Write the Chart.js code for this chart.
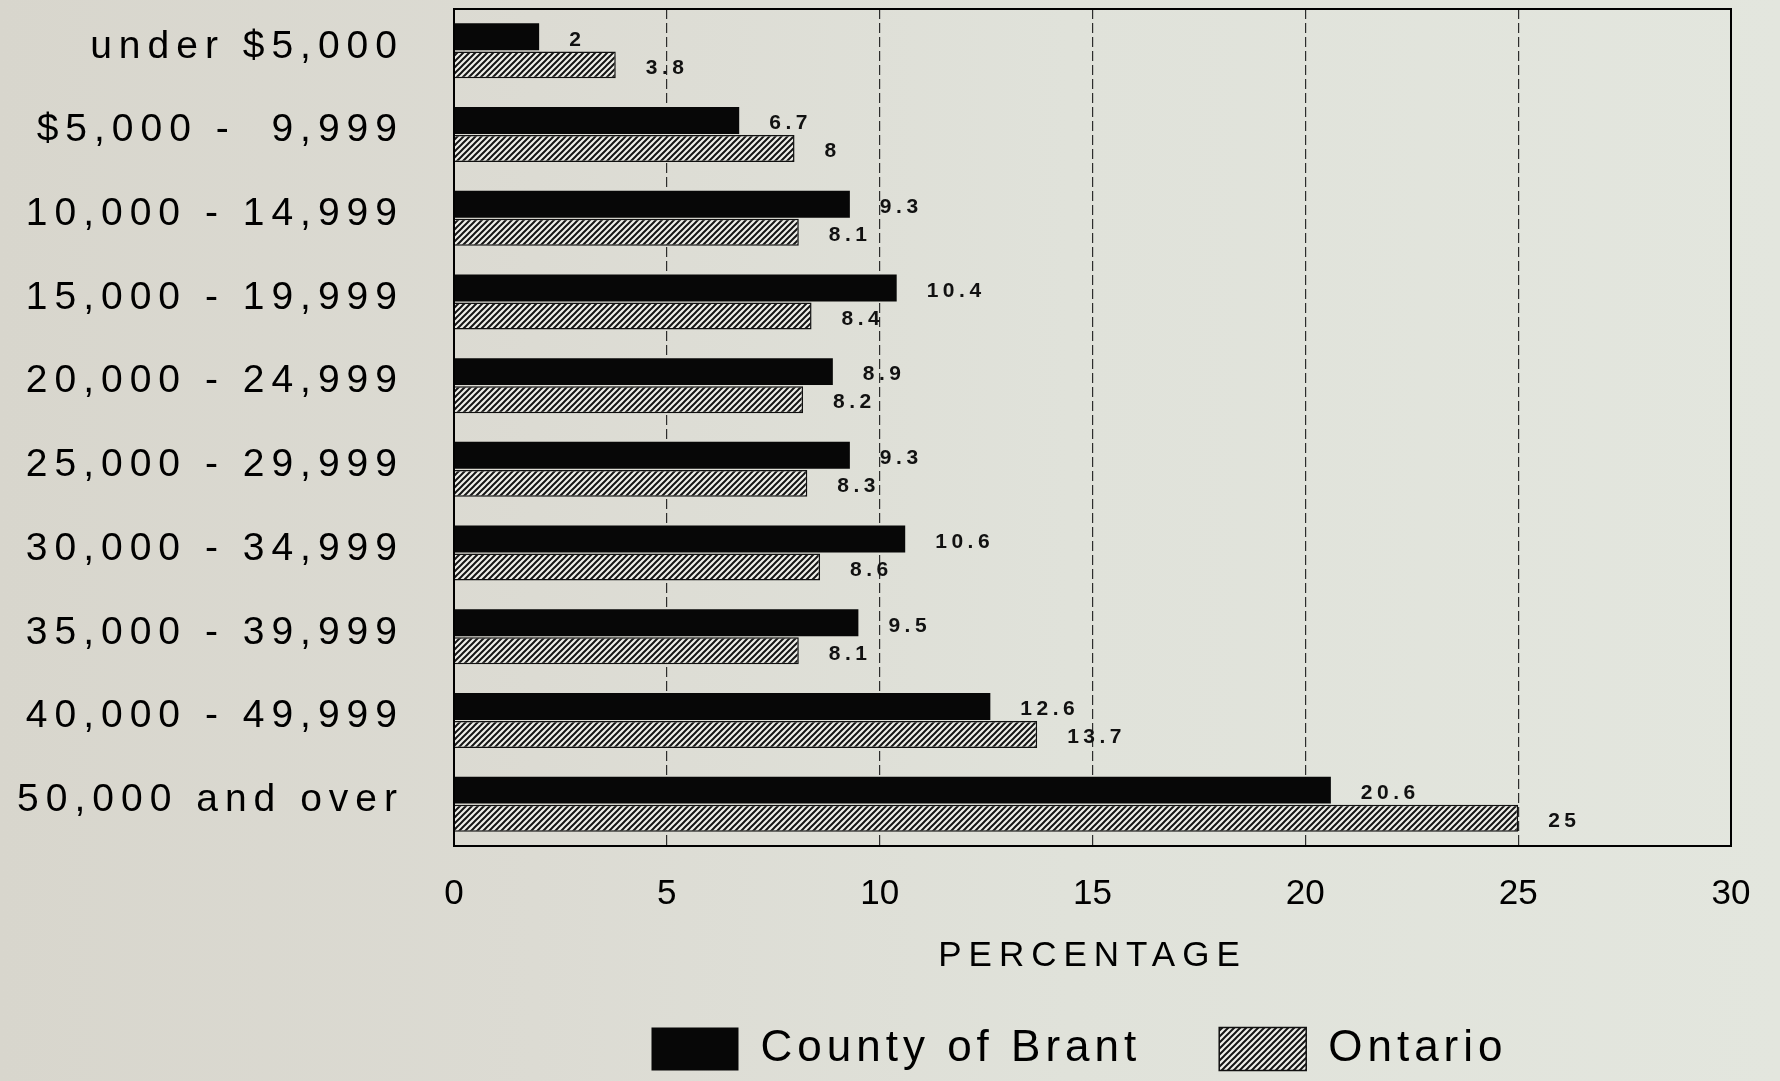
<!DOCTYPE html>
<html>
<head>
<meta charset="utf-8">
<script src="https://cdn.jsdelivr.net/npm/chart.js@4/dist/chart.umd.min.js"></script>
<style>
  html, body { margin: 0; padding: 0; overflow: hidden; }
  body { width: 1780px; height: 1081px; background: linear-gradient(to right, #d8d6cd 0%, #dcdbd3 30%, #e0e2da 60%, #e3e6de 100%); }
  #wrap { position: relative; width: 1780px; height: 1081px; }
</style>
</head>
<body>
<div id="wrap"><canvas id="c"></canvas></div>
<script>
const categories = ["under $5,000", "$5,000 -  9,999", "10,000 - 14,999", "15,000 - 19,999", "20,000 - 24,999",
                    "25,000 - 29,999", "30,000 - 34,999", "35,000 - 39,999", "40,000 - 49,999", "50,000 and over"];
const brantValues = [2, 6.7, 9.3, 10.4, 8.9, 9.3, 10.6, 9.5, 12.6, 20.6];
const ontarioValues = [3.8, 8, 8.1, 8.4, 8.2, 8.3, 8.6, 8.1, 13.7, 25];
const seriesNames = ["County of Brant", "Ontario"];
const xTicks = [0, 5, 10, 15, 20, 25, 30];
const xTitle = "PERCENTAGE";

const FONT = "'Liberation Sans', Arial, Helvetica, sans-serif";

function hatchPattern() {
  const s = 6;
  const c = document.createElement('canvas');
  c.width = s; c.height = s;
  const g = c.getContext('2d');
  g.fillStyle = '#efefe9';
  g.fillRect(0, 0, s, s);
  g.strokeStyle = '#151515';
  g.lineWidth = 2;
  g.beginPath();
  g.moveTo(0, s); g.lineTo(s, 0);
  g.moveTo(-1, 1); g.lineTo(1, -1);
  g.moveTo(s - 1, s + 1); g.lineTo(s + 1, s - 1);
  g.stroke();
  return document.getElementById('c').getContext('2d').createPattern(c, 'repeat');
}

const spacingPlugin = {
  id: 'spacing',
  beforeLayout(chart) { chart.ctx.letterSpacing = '5px'; },
  afterLayout(chart) {
    const lg = chart.legend;
    if (lg) {
      lg.left -= 13; lg.right -= 13;
      if (!lg._wrapped) {
        const orig = lg.draw;
        lg.draw = function (...args) {
          const prev = this.ctx.letterSpacing;
          this.ctx.letterSpacing = '5px';
          orig.apply(this, args);
          this.ctx.letterSpacing = prev;
        };
        lg._wrapped = true;
      }
    }
  },
  beforeDraw(chart) { chart.ctx.letterSpacing = '7px'; }
};

const valueLabels = {
  id: 'valueLabels',
  afterDatasetsDraw(chart) {
    const ctx = chart.ctx;
    ctx.save();
    ctx.letterSpacing = '4.5px';
    ctx.font = "bold 21px " + FONT;
    ctx.fillStyle = '#111';
    ctx.textAlign = 'left';
    ctx.textBaseline = 'middle';
    chart.data.datasets.forEach((ds, di) => {
      const meta = chart.getDatasetMeta(di);
      meta.data.forEach((el, i) => {
        ctx.fillText(String(ds.data[i]), el.x + 30, el.y + 3);
      });
    });
    ctx.restore();
    ctx.letterSpacing = '0px';
  }
};

const framePlugin = {
  id: 'frame',
  afterDraw(chart) {
    const a = chart.chartArea;
    const ctx = chart.ctx;
    ctx.save();
    ctx.strokeStyle = '#000';
    ctx.lineWidth = 2;
    ctx.strokeRect(a.left, a.top, a.right - a.left, a.bottom - a.top);
    ctx.restore();
  }
};

const hatch = hatchPattern();

new Chart(document.getElementById('c'), {
  type: 'bar',
  data: {
    labels: categories,
    datasets: [
      { label: seriesNames[0], data: brantValues, backgroundColor: '#070707', borderColor: '#070707', borderWidth: 0,
        categoryPercentage: 0.67, barPercentage: 0.96 },
      { label: seriesNames[1], data: ontarioValues, backgroundColor: hatch, borderColor: '#111', borderWidth: 1.5,
        categoryPercentage: 0.67, barPercentage: 0.96 }
    ]
  },
  options: {
    indexAxis: 'y',
    responsive: true,
    maintainAspectRatio: false,
    animation: false,
    devicePixelRatio: 1,
    layout: { padding: { left: 0, right: 49, top: 9, bottom: 0 } },
    plugins: {
      tooltip: { enabled: false },
      legend: {
        position: 'bottom',
        fullSize: false,
        labels: {
          boxWidth: 87, boxHeight: 43, padding: 78,
          color: '#000',
          font: { family: FONT, size: 44 }
        }
      }
    },
    scales: {
      x: {
        min: 0, max: 30,
        afterBuildTicks(scale) { scale.ticks = xTicks.map(v => ({ value: v })); },
        afterFit(scale) { scale.height = 103; scale.paddingLeft = 0; scale.paddingRight = 0; },
        grid: {
          drawTicks: false,
          lineWidth: 1.2,
          color: (c) => (c.tick && c.tick.value > 0 && c.tick.value < 30) ? 'rgba(25,25,25,0.9)' : 'rgba(0,0,0,0)'
        },
        border: { display: true, width: 2, dash: [10, 4], color: '#000' },
        ticks: { z: 1, padding: 27, color: '#000', font: { family: FONT, size: 35 } },
        title: { display: true, text: xTitle, color: '#000', font: { family: FONT, size: 35 },
                 padding: { top: 0, bottom: -28 } }
      },
      y: {
        afterFit(scale) { scale.width = 454; scale.paddingTop = 0; scale.paddingBottom = 0; },
        grid: { display: false, drawTicks: false },
        border: { display: true, width: 2, color: '#000' },
        ticks: { padding: 50, labelOffset: -4, color: '#000', font: { family: FONT, size: 39 } }
      }
    }
  },
  plugins: [spacingPlugin, valueLabels, framePlugin]
});
</script>
</body>
</html>
